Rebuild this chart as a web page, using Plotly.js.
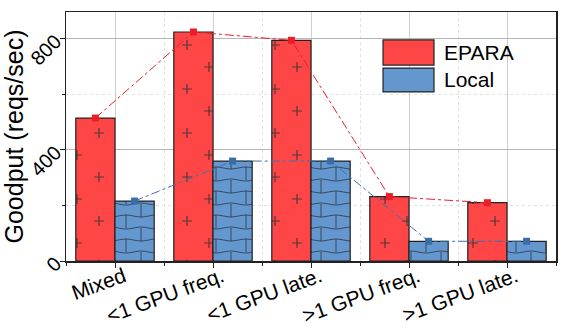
<!DOCTYPE html>
<html>
<head>
<meta charset="utf-8">
<script src="https://cdn.plot.ly/plotly-3.0.1.min.js"></script>
<style>
  html, body { margin: 0; padding: 0; background: #fff; }
  #chart { width: 571px; height: 336px; }
</style>
</head>
<body>
<div id="chart"></div>
<script>
    // goodput per workload
    const categories = ['Mixed', '<1 GPU freq.', '<1 GPU late.', '>1 GPU freq.', '>1 GPU late.'];
    const epara = [515, 825, 795, 232, 210];
    const local = [216, 360, 360, 71, 71];
    const seriesNames = ['EPARA', 'Local'];
    const yTicks = [0, 400, 800];

    const idx = categories.map((c, i) => i);
    const RED = '#ff4646', BLUE = '#6497cd';
    const FONT = '"Liberation Sans", Arial, sans-serif';

    const traces = [
        {x: idx, y: epara, type: 'bar', name: seriesNames[0], offsetgroup: 'a',
         marker: {color: RED, line: {color: '#222', width: 1.2},
                  pattern: {shape: '+', size: 44, solidity: 0.03, fillmode: 'overlay', fgcolor: '#333', fgopacity: 0.85}}},
        {x: idx, y: local, type: 'bar', name: seriesNames[1], offsetgroup: 'b',
         marker: {color: BLUE, line: {color: '#222', width: 1.2},
                  pattern: {shape: '+', size: 24, solidity: 0.05, fillmode: 'overlay', fgcolor: '#2b3b50', fgopacity: 0.85}}},
        {x: idx, y: epara, type: 'scatter', mode: 'lines+markers', offsetgroup: 'a', name: seriesNames[0],
         line: {color: '#e8202a', width: 1, dash: 'dashdot'}, marker: {symbol: 'square', size: 7, color: '#ee1c24'}},
        {x: idx, y: local, type: 'scatter', mode: 'lines+markers', offsetgroup: 'b', name: seriesNames[1],
         line: {color: '#3f72aa', width: 1, dash: 'dashdot'}, marker: {symbol: 'square', size: 7, color: '#3a6da5'}}
    ];

    // hand-drawn legend box, top right inside the plot
    const legendShapes = [
        {type: 'rect', xref: 'paper', yref: 'paper', x0: 0.647, x1: 0.751, y0: 0.787, y1: 0.888,
         fillcolor: RED, line: {color: '#222', width: 1.2}},
        {type: 'rect', xref: 'paper', yref: 'paper', x0: 0.647, x1: 0.751, y0: 0.679, y1: 0.775,
         fillcolor: BLUE, line: {color: '#222', width: 1.2}}
    ];
    const legendText = [
        {xref: 'paper', yref: 'paper', x: 0.767, y: 0.838, xanchor: 'left', yanchor: 'middle', showarrow: false,
         text: seriesNames[0], font: {size: 21, color: '#000', family: FONT}},
        {xref: 'paper', yref: 'paper', x: 0.767, y: 0.727, xanchor: 'left', yanchor: 'middle', showarrow: false,
         text: seriesNames[1], font: {size: 21, color: '#000', family: FONT}}
    ];

    const layout = {
        width: 571, height: 336,
        margin: {l: 66, r: 15, t: 12, b: 75},
        paper_bgcolor: '#fff', plot_bgcolor: '#fff',
        font: {family: FONT, color: '#000'},
        showlegend: false,
        barmode: 'group', bargap: 0.2, bargroupgap: 0,
        scattermode: 'group', scattergap: 0.2,
        xaxis: {range: [-0.5, 4.5], tickvals: idx, ticktext: categories, tickangle: -20,
                tickfont: {size: 21}, ticks: 'outside', ticklen: 5, tickcolor: '#222',
                ticklabelshift: 9, ticklabelstandoff: -11, automargin: false,
                showline: true, mirror: true, linecolor: '#222', linewidth: 1.5,
                showgrid: true, gridcolor: '#cfcfcf', gridwidth: 1, zeroline: false,
                minor: {tick0: 0.5, dtick: 1, ticks: 'outside', ticklen: 3, tickcolor: '#222',
                        showgrid: true, gridcolor: '#e2e2e2', griddash: 'dot'}},
        yaxis: {range: [0, 897], tickvals: yTicks, tickangle: -45, tickfont: {size: 20},
                ticks: 'outside', ticklen: 5, tickcolor: '#222',
                title: {text: 'Goodput (reqs/sec)', font: {size: 25}, standoff: 4},
                showline: true, mirror: true, linecolor: '#222', linewidth: 1.5,
                showgrid: true, gridcolor: '#b5b5b5', gridwidth: 1, zeroline: false,
                minor: {tick0: 0, dtick: 200, ticks: 'outside', ticklen: 3, tickcolor: '#222',
                        showgrid: true, gridcolor: '#e2e2e2', griddash: 'dot'}},
        shapes: legendShapes,
        annotations: legendText
    };

    // swap plotly's full-grid '+' fills for sparse plus signs and a honeycomb
    function reshapePatterns() {
        document.querySelectorAll('#chart pattern').forEach(p => {
            const path = p.querySelector('path');
            if (!path) return;
            const w = parseFloat(p.getAttribute('width'));
            if (w === 44) {
                path.setAttribute('d', 'M6,11H16M11,6V16M28,33H38M33,28V38');
                path.setAttribute('stroke-width', '1.2px');
                path.style.strokeWidth = '1.2px';
            } else if (w === 24) {
                p.setAttribute('width', '30px');
                const bg = p.querySelector('rect');
                if (bg) bg.setAttribute('width', '30');
                path.setAttribute('d',
                    'M0,1C5,1 10,-1 15,-1C20,-1 25,1 30,1' +
                    'M0,11C5,11 10,13 15,13C20,13 25,11 30,11' +
                    'M0,25C5,25 10,23 15,23C20,23 25,25 30,25' +
                    'M15,-1V13M0,11V25M30,11V25');
                path.setAttribute('fill', 'none');
                path.style.fill = 'none';
                path.setAttribute('stroke-width', '1px');
                path.style.strokeWidth = '1px';
            }
        });
    }

    Plotly.newPlot('chart', traces, layout, {displayModeBar: false, staticPlot: true})
        .then(reshapePatterns);
</script>
</body>
</html>
